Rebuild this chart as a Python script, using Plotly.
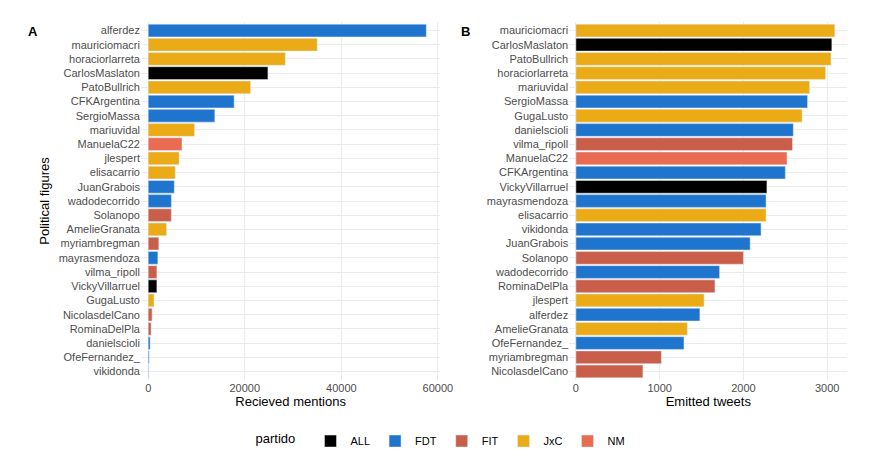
import plotly.graph_objects as go
from plotly.subplots import make_subplots

##############################################
# Data
##############################################

COLORS = {"ALL": "#000000", "FDT": "#1F75CE", "FIT": "#C95F4A", "JxC": "#EBAB16", "NM": "#E96B51"}

names_a = ["alferdez", "mauriciomacri", "horaciorlarreta", "CarlosMaslaton", "PatoBullrich",
           "CFKArgentina", "SergioMassa", "mariuvidal", "ManuelaC22", "jlespert", "elisacarrio",
           "JuanGrabois", "wadodecorrido", "Solanopo", "AmelieGranata", "myriambregman",
           "mayrasmendoza", "vilma_ripoll", "VickyVillarruel", "GugaLusto", "NicolasdelCano",
           "RominaDelPla", "danielscioli", "OfeFernandez_", "vikidonda"]
party_a = ["FDT", "JxC", "JxC", "ALL", "JxC", "FDT", "FDT", "JxC", "NM", "JxC", "JxC",
           "FDT", "FDT", "FIT", "JxC", "FIT", "FDT", "FIT", "ALL", "JxC", "FIT",
           "FIT", "FDT", "FDT", "FDT"]
mentions = [57600, 35000, 28400, 24800, 21200, 17800, 13800, 9600, 7000, 6400, 5600,
            5400, 4800, 4800, 3800, 2200, 2000, 1800, 1800, 1200, 800, 600, 400, 200, 100]

names_b = ["mauriciomacri", "CarlosMaslaton", "PatoBullrich", "horaciorlarreta", "mariuvidal",
           "SergioMassa", "GugaLusto", "danielscioli", "vilma_ripoll", "ManuelaC22",
           "CFKArgentina", "VickyVillarruel", "mayrasmendoza", "elisacarrio", "vikidonda",
           "JuanGrabois", "Solanopo", "wadodecorrido", "RominaDelPla", "jlespert", "alferdez",
           "AmelieGranata", "OfeFernandez_", "myriambregman", "NicolasdelCano"]
party_b = ["JxC", "ALL", "JxC", "JxC", "JxC", "FDT", "JxC", "FDT", "FIT", "NM",
           "FDT", "ALL", "FDT", "JxC", "FDT", "FDT", "FIT", "FDT", "FIT", "JxC", "FDT",
           "JxC", "FDT", "FIT", "FIT"]
tweets = [3090, 3055, 3045, 2980, 2790, 2765, 2700, 2595, 2585, 2520, 2500, 2280, 2270,
          2270, 2210, 2080, 2000, 1715, 1660, 1530, 1480, 1330, 1290, 1020, 800]

##############################################
# Figure
##############################################

fig = make_subplots(rows=1, cols=2)

for p in ["ALL", "FDT", "FIT", "JxC", "NM"]:
    ia = [i for i, q in enumerate(party_a) if q == p]
    ib = [i for i, q in enumerate(party_b) if q == p]
    fig.add_trace(go.Bar(x=[mentions[i] for i in ia], y=[names_a[i] for i in ia],
                         orientation="h", marker_color=COLORS[p], name=p, width=0.9,
                         legendgroup=p), row=1, col=1)
    fig.add_trace(go.Bar(x=[tweets[i] for i in ib], y=[names_b[i] for i in ib],
                         orientation="h", marker_color=COLORS[p], name=p, width=0.9,
                         legendgroup=p, showlegend=False), row=1, col=2)

grid = dict(showgrid=True, gridcolor="#EBEBEB", zeroline=False, ticks="",
            tickfont=dict(size=11, color="#4D4D4D"))

fig.update_xaxes(grid)
fig.update_xaxes(domain=[0.145, 0.498], tickvals=[0, 20000, 40000, 60000],
                 ticktext=["0", "20000", "40000", "60000"], range=[-1500, 60500],
                 title=dict(text="Recieved mentions", font=dict(size=13, color="black"), standoff=2),
                 row=1, col=1)
fig.update_xaxes(domain=[0.65, 0.978], tickvals=[0, 1000, 2000, 3000], range=[-80, 3240],
                 title=dict(text="Emitted tweets", font=dict(size=13, color="black"), standoff=2),
                 row=1, col=2)
fig.update_yaxes(grid)
fig.update_yaxes(categoryorder="array", categoryarray=names_a[::-1], range=[-0.6, 24.6],
                 title=dict(text="Political figures", font=dict(size=13, color="black"), standoff=6),
                 row=1, col=1)
fig.update_yaxes(categoryorder="array", categoryarray=names_b[::-1], range=[-0.6, 24.6],
                 row=1, col=2)

fig.add_annotation(text="<b>A</b>", x=0.01, y=1.0, xref="paper", yref="paper",
                   showarrow=False, xanchor="left", yanchor="top", font=dict(size=13, color="black"))
fig.add_annotation(text="<b>B</b>", x=0.52, y=1.0, xref="paper", yref="paper",
                   showarrow=False, xanchor="left", yanchor="top", font=dict(size=13, color="black"))

fig.update_layout(
    width=881, height=458,
    plot_bgcolor="white", paper_bgcolor="white",
    font=dict(family="Liberation Sans, Arial", color="black"),
    barmode="overlay",
    margin=dict(l=10, r=10, t=14, b=78),
    legend=dict(orientation="h", x=0.5, xanchor="center", y=-0.13, yanchor="top",
                title=dict(text="partido  ", font=dict(size=13)), font=dict(size=11)),
)

fig.write_html("out.html")
